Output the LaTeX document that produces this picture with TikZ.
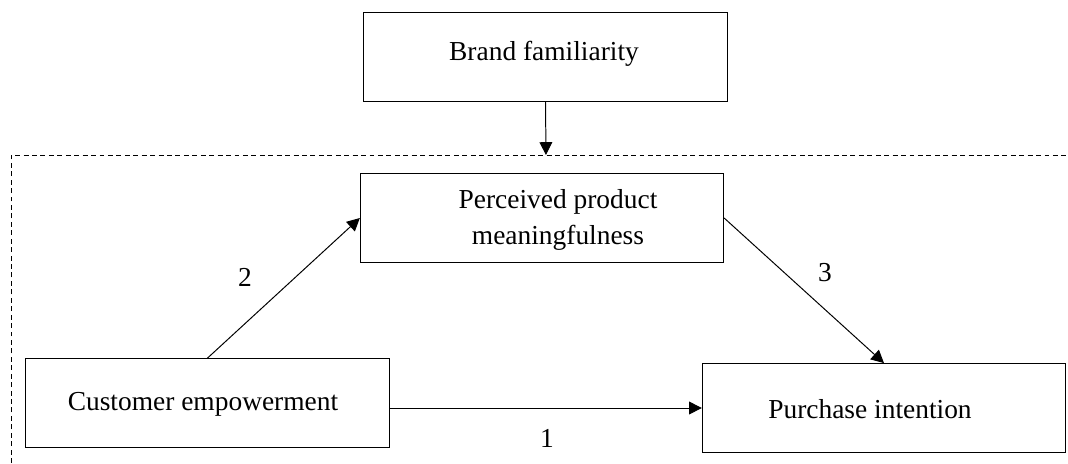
\documentclass[tikz,border=0pt]{standalone}
\usepackage{fontspec}
\setmainfont{Liberation Serif}
\usetikzlibrary{arrows.meta}

\tikzset{
  box/.style={draw, line width=0.7pt, minimum width=9.08cm, minimum height=2.22cm, inner sep=0pt},
  boxtext/.style={font=\fontsize{19.5}{25}\selectfont, align=center, inner sep=0pt},
  arr/.style={line width=0.7pt, -{Triangle[length=0.32cm,width=0.32cm]}},
  num/.style={font=\fontsize{19.5}{25}\selectfont, inner sep=2pt}
}

\begin{document}
\begin{tikzpicture}[x=0.025cm,y=-0.025cm]

	\useasboundingbox (0,0) rectangle (1068,463);

	% dashed frame (open to the right and bottom)
	\draw[line width=0.7pt, dash pattern=on 3.5pt off 2.5pt] (11,463) -- (11,155) -- (1068,155);
	\coordinate (frame) at (546,155);

	\node[box] (bf) at (545.5,57) {};
	\node[box] (pm) at (542,218) {};
	\node[box] (ce) at (207.5,403) {};
	\node[box] (pi) at (884,408) {};

	\node[boxtext] (bftext) at (544,54) {Brand familiarity};
	\node[boxtext] (pmtext) at (558,220) {Perceived product\\meaningfulness};
	\node[boxtext] (cetext) at (203,404) {Customer empowerment};
	\node[boxtext] (pitext) at (870,409) {Purchase intention};

	\draw[arr] (bf.south) -- (frame);
	\draw[arr] (ce.north) -- (pm.west);
	\draw[arr] (pm.east) -- (pi.north);
	\draw[arr] (ce.east |- pi.west) -- (pi.west);

	\node[num] (n1) at (547,438) {1};
	\node[num] (n2) at (245,277) {2};
	\node[num] (n3) at (825,273) {3};

\end{tikzpicture}
\end{document}
